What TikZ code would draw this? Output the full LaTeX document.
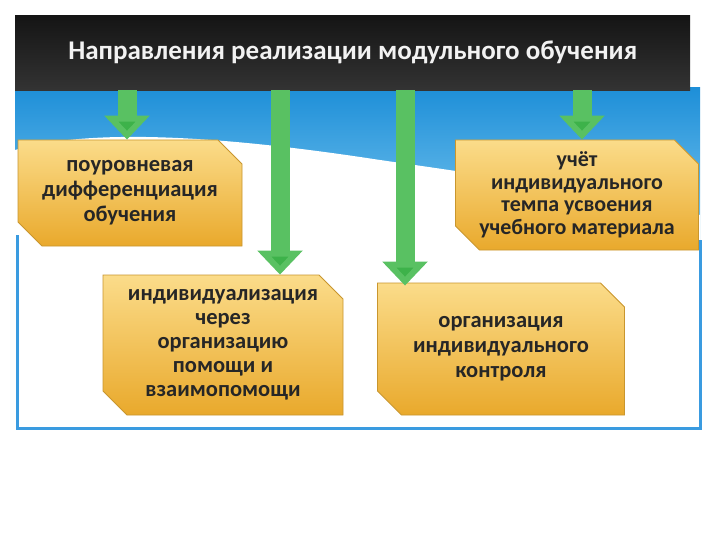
\documentclass[tikz,border=0pt]{standalone}
\usepackage{fontspec}
\setmainfont{Carlito}
\usetikzlibrary{shapes.misc,arrows.meta}
\definecolor{gold1}{HTML}{FBDC8A}
\definecolor{gold2}{HTML}{E9A92C}
\definecolor{goldb}{HTML}{C9962E}
\definecolor{sky1}{HTML}{1E8FD8}
\definecolor{sky2}{HTML}{7CC8F0}
\definecolor{arr1}{HTML}{9BE49B}
\definecolor{arr2}{HTML}{3DB24A}
\definecolor{frame}{HTML}{3A9BE0}
\tikzset{
 box/.style={chamfered rectangle,chamfered rectangle corners={north east,south west},chamfered rectangle xsep=12pt,chamfered rectangle ysep=12pt,
   top color=gold1,bottom color=gold2,draw=goldb,line width=0.8pt,inner sep=0pt,
   align=center,font=\bfseries\fontsize{22.5}{25}\selectfont,text=black!85},
 garrow/.style={draw=arr2!70!arr1,line width=19pt,-{Triangle[width=44pt,length=24pt,fill=arr2]}},
}
\begin{document}
\begin{tikzpicture}[x=1pt,y=-1pt]
\useasboundingbox (0,0) rectangle (720,540);
\fill[white] (0,0) rectangle (720,540);
% sky
\shade[top color=sky1,bottom color=sky2] (15,88) rectangle (700,240);
\fill[white] (15,150) .. controls (100,125) and (250,140) .. (380,160) .. controls (520,180) and (650,200) .. (700,215) -- (700,430) -- (15,430) -- cycle;
\draw[frame,line width=3pt] (17,235) -- (17,428) -- (700,428) -- (700,240);
% title
\node[minimum width=675pt,minimum height=75pt,anchor=north west,top color=black!92,bottom color=black!80!white,inner sep=0pt,
  font=\bfseries\fontsize{27}{32}\selectfont,text=white!95!black] (title) at (15,15) {Направления реализации модульного обучения};
% boxes
\node[box,minimum width=224pt,minimum height=106pt] (b1) at (130,193) {поуровневая\\дифференциация\\обучения};
\node[box,minimum width=240pt,minimum height=140pt,font=\bfseries\fontsize{22.5}{24}\selectfont] (b2) at (223,345) {индивидуализация\\через\\организацию\\помощи и\\взаимопомощи};
\node[box,minimum width=243pt,minimum height=110pt,font=\bfseries\fontsize{22}{22.5}\selectfont] (b3) at (577,195) {учёт\\индивидуального\\темпа усвоения\\учебного материала};
\node[box,minimum width=247pt,minimum height=132pt] (b4) at (501,349) {организация\\индивидуального\\контроля};
% arrows
\draw[garrow] (title.south -| 127,0) -- (b1.north -| 127,0);
\draw[garrow] (title.south -| 280,0) -- (b2.north -| 280,0);
\draw[garrow] (title.south -| 405,0) -- ([yshift=-3pt]b4.north -| 405,0);
\draw[garrow] (title.south -| 582,0) -- (b3.north -| 582,0);
\end{tikzpicture}
\end{document}
